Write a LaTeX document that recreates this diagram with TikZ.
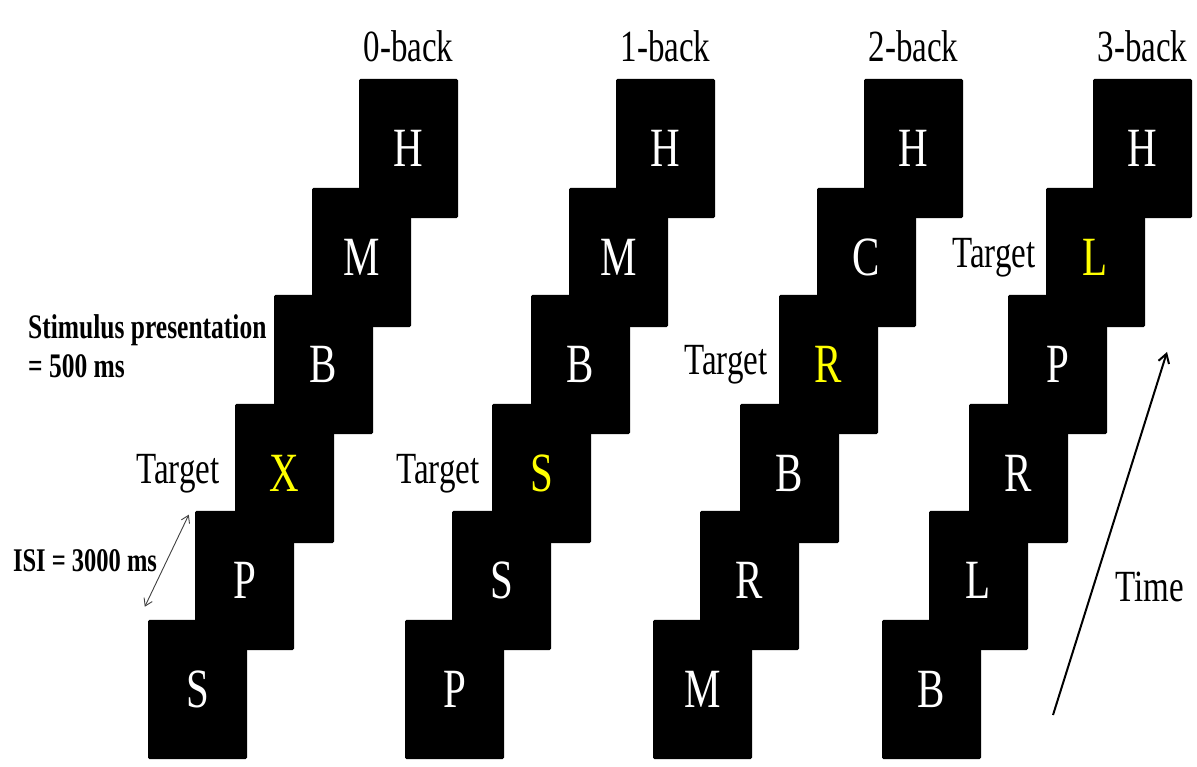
\documentclass[tikz,border=0pt]{standalone}
\usepackage{fontspec}
\setmainfont{Liberation Serif}
\usetikzlibrary{arrows.meta, positioning}
\definecolor{hitcol}{RGB}{255,255,0}
\newcommand{\hit}[1]{\textcolor{hitcol}{#1}}

\begin{document}
\begin{tikzpicture}[x=1pt, y=-1pt,
    card/.style={fill=black, text=white, rounded corners=1.5pt, inner sep=0pt,
      minimum width=99pt, minimum height=103pt, yscale=1.35,
      font=\fontsize{41}{44}\selectfont},
    head/.style={inner sep=1pt, yscale=1.35, font=\fontsize{33}{36}\selectfont},
    lbl/.style={inner sep=1pt, yscale=1.35, font=\fontsize{33}{36}\selectfont},
    note/.style={inner sep=1pt, yscale=1.35, font=\bfseries\fontsize{24.5}{29}\selectfont},
    isi arrow/.style={{Straight Barb[length=7pt, width=9pt]}-{Straight Barb[length=7pt, width=9pt]},
      line width=0.9pt, black!75},
    time arrow/.style={-{Straight Barb[length=9pt, width=11pt]}, line width=2pt}]
  \useasboundingbox (0,0) rectangle (1197,767);
  % stimulus screens, bottom to top
  \foreach \col/\bx/\la/\lb/\lc/\ld/\le/\lf in {0/197.5/S/P/\hit{X}/B/M/H,
      1/454.5/P/S/\hit{S}/B/M/H, 2/702.5/M/R/B/\hit{R}/C/H, 3/931.5/B/L/R/P/\hit{L}/H}
    \foreach \i/\dx/\y/\l in {0/0/689.5/\la, 1/47/580.5/\lb, 2/87/473.5/\lc,
        3/126/364.5/\ld, 4/164/257.5/\le, 5/211/148.5/\lf}
      \node[card] (c\col s\i) at (\bx+\dx,\y) {\l};
  % task names
  \foreach \col/\t in {0/0-back, 1/1-back, 2/2-back, 3/3-back}
    \node[head, above=15pt of c\col s5] (head\col) {\t};
  % targets
  \foreach \col/\i/\g in {0/2/14, 1/2/11, 2/3/10, 3/4/9}
    \node[lbl, left=\g pt of c\col s\i] (tgt\col) {Target};
  % timing
  \node[note, anchor=west, align=left, font=\bfseries\fontsize{25.5}{29}\selectfont] (stim)
    at (27,346) {Stimulus presentation\\= 500 ms};
  \node[note] (isi) at (85,561) {ISI = 3000 ms};
  \draw[isi arrow] ([shift={(-3,-13)}]c0s0.north west) -- ([shift={(-6,4)}]c0s1.north west);
  \coordinate (tstart) at (1053,715);
  \coordinate (tend) at (1167,352);
  \draw[time arrow] (tstart) -- (tend);
  \node[lbl] (time) at (1150,587) {Time};
\end{tikzpicture}
\end{document}
